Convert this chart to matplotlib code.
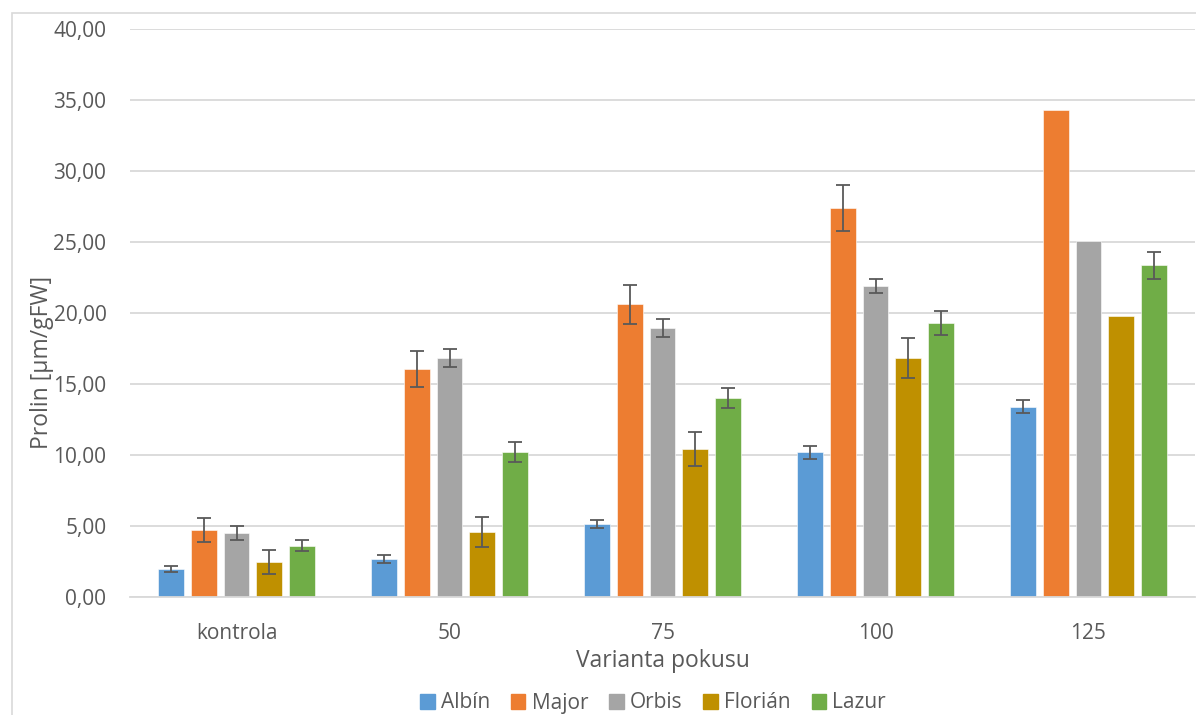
import matplotlib
matplotlib.use("Agg")
import matplotlib.pyplot as plt
import numpy as np
from matplotlib.patches import Rectangle

categories = ['kontrola', '50', '75', '100', '125']
series_names = ['Albín', 'Major', 'Orbis', 'Florián', 'Lazur']
albin = [1.95, 2.68, 5.14, 10.2, 13.4]
major = [4.7, 16.06, 20.6, 27.4, 34.27]
orbis = [4.5, 16.83, 18.94, 21.9, 25.1]
florian = [2.47, 4.58, 10.42, 16.83, 19.8]
lazur = [3.6, 10.2, 14.0, 19.3, 23.35]
albin_err = [0.2, 0.3, 0.3, 0.45, 0.47]
major_err = [0.85, 1.25, 1.4, 1.6, 0]
orbis_err = [0.48, 0.65, 0.65, 0.5, 0]
florian_err = [0.84, 1.05, 1.2, 1.4, 0]
lazur_err = [0.38, 0.7, 0.7, 0.85, 0.95]
colors = ['#5B9BD5', '#ED7D31', '#A5A5A5', '#BF9000', '#70AD47']

values = [albin, major, orbis, florian, lazur]
errors = [albin_err, major_err, orbis_err, florian_err, lazur_err]

plt.rcParams['font.family'] = ['Open Sans', 'DejaVu Sans']
txt = '#595959'

fig = plt.figure(figsize=(11.96, 7.15), dpi=100)
W, H = 1196, 715
ax = fig.add_axes([130 / W, 1 - 597 / H, (1195 - 130) / W, (597 - 29) / H])

x = np.arange(len(categories))
width = 0.122
step = 0.154
for i, (name, v, e, c) in enumerate(zip(series_names, values, errors, colors)):
    pos = x + (i - 2) * step
    ax.bar(pos, v, width, color=c, label=name, zorder=2, edgecolor='white', linewidth=0.4)
    ee = np.array(e, dtype=float)
    mask = ee > 0
    ax.errorbar(pos[mask], np.array(v)[mask], yerr=ee[mask], fmt='none', ecolor='#595959',
                elinewidth=1.3, capsize=4.8, capthick=1.3, zorder=3)

ax.set_xlim(-0.5, len(categories) - 0.5)
ax.set_ylim(0, 40)
ax.set_yticks(np.arange(0, 41, 5))
ax.set_yticklabels([f"{t:.2f}".replace('.', ',') for t in np.arange(0, 41, 5)])
ax.set_xticks(x)
ax.set_xticklabels(categories)
ax.yaxis.grid(True, color='#D9D9D9', linewidth=1.3, zorder=0)
ax.set_axisbelow(True)
for s in ['top', 'right', 'left']:
    ax.spines[s].set_visible(False)
ax.spines['bottom'].set_color('#D9D9D9')
ax.spines['bottom'].set_linewidth(1.3)
ax.tick_params(axis='both', length=0, labelsize=15, colors=txt)
ax.tick_params(axis='y', pad=17)
ax.tick_params(axis='x', pad=19)

fig.text(663 / W, 1 - 661 / H, 'Varianta pokusu', ha='center', va='center', fontsize=16.5, color=txt)
fig.text(42 / W, 1 - 362 / H, 'Prolin [µm/gFW]', ha='center', va='center', rotation=90,
         fontsize=16.5, color=txt)

handles = [Rectangle((0, 0), 1, 1, color=c) for c in colors]
leg = fig.legend(handles, series_names, loc='center', bbox_to_anchor=(653 / W, 1 - 703 / H),
                 ncol=5, frameon=False, fontsize=15, handlelength=0.7, handleheight=0.7,
                 columnspacing=1.0, handletextpad=0.3, labelcolor=txt)

fig.patches.append(Rectangle((12 / W, -0.1), 1.2, 1.1 - 13 / H, transform=fig.transFigure,
                             fill=False, edgecolor='#D9D9D9', linewidth=1.2))

fig.savefig('out.png', dpi=100)
